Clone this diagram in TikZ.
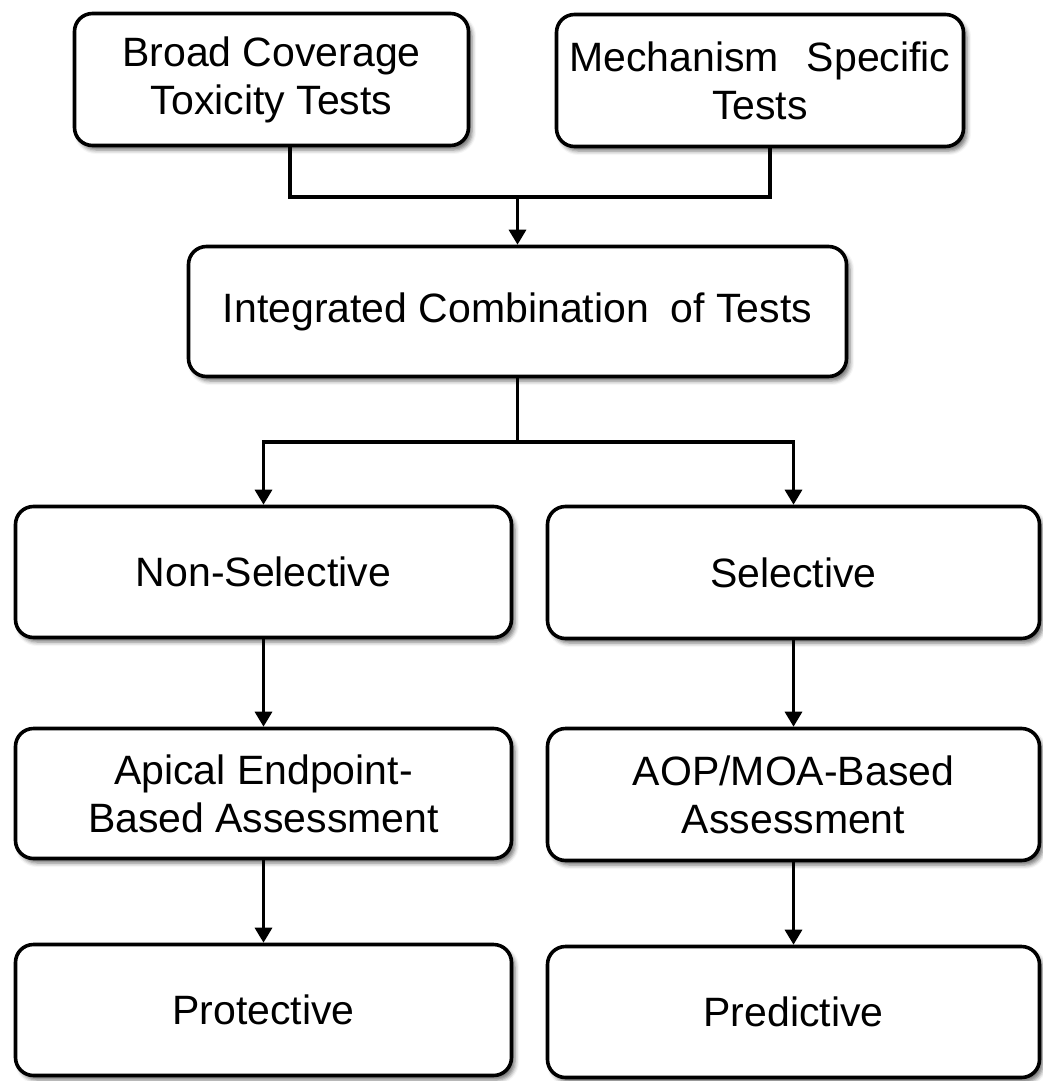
\documentclass[tikz,border=0pt]{standalone}
\usepackage{fontspec}
\setmainfont{Liberation Sans}
\usetikzlibrary{arrows.meta,shadows.blur}

\begin{document}
\begin{tikzpicture}[x=1pt,y=-1pt,
  box/.style={draw, line width=3.6pt, rounded corners=18pt, fill=white,
    align=center, inner sep=0pt, font=\fontsize{41}{48}\selectfont,
    blur shadow={shadow xshift=3.5pt, shadow yshift=-4.5pt,
      shadow blur radius=4pt, shadow opacity=55}},
  link/.style={line width=3.2pt},
  arr/.style={link, -{Triangle[width=17pt,length=15pt]}}]

\useasboundingbox (0,0) rectangle (1043,1081);

% boxes
\node[box, minimum width=394pt, minimum height=132pt] (b1) at (271.5,79.5)
  {Broad Coverage\\Toxicity Tests};
\node[box, minimum width=407pt, minimum height=132pt] (b2) at (760,80.5)
  {Mechanism\hspace{0.4em} Specific\\Tests};
\node[box, minimum width=658pt, minimum height=130pt] (b3) at (517.5,311.5)
  {Integrated Combination\hspace{0.25em} of Tests};
\node[box, minimum width=496pt, minimum height=131pt] (b4) at (263.5,572)
  {Non-Selective};
\node[box, minimum width=492pt, minimum height=132pt] (b5) at (793.5,572.5)
  {Selective};
\node[box, minimum width=496pt, minimum height=130pt] (b6) at (263.5,793.5)
  {Apical Endpoint-\\Based Assessment};
\node[box, minimum width=492pt, minimum height=132pt] (b7) at (793.5,794.5)
  {AOP/MOA-Based\\Assessment};
\node[box, minimum width=496pt, minimum height=131pt] (b8) at (263.5,1010)
  {Protective};
\node[box, minimum width=492pt, minimum height=131pt] (b9) at (793.5,1012)
  {Predictive};

% junction points
\coordinate (j1) at (290,197);
\coordinate (j2) at (770,197);
\coordinate (m1) at (517.5,197);
\coordinate (m2) at (517.5,442);

% top merge
\draw[link] (b1.south -| j1) -- (j1) -- (j2) -- (b2.south -| j2);
\draw[arr] (m1) -- (b3.north);

% split into two branches
\draw[link] (b3.south) -- (m2);
\draw[arr] (m2) -| (b4.north);
\draw[arr] (m2) -| (b5.north);

% vertical chains
\draw[arr] (b4.south) -- (b6.north);
\draw[arr] (b6.south) -- (b8.north);
\draw[arr] (b5.south) -- (b7.north);
\draw[arr] (b7.south) -- (b9.north);
\end{tikzpicture}
\end{document}
